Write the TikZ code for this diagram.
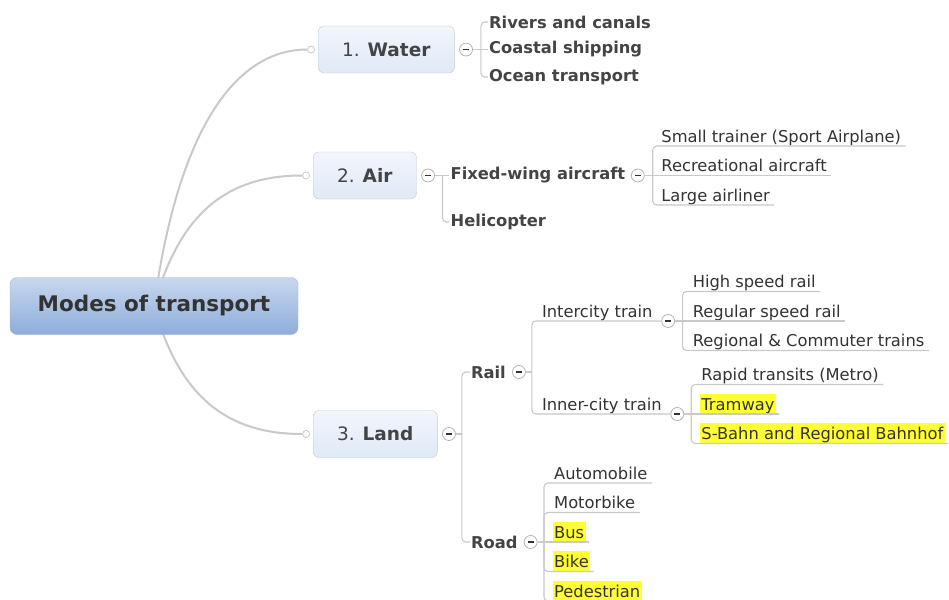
\documentclass[tikz,border=0pt]{standalone}
\usepackage{fontspec}
\setmainfont{DejaVu Sans}
\usetikzlibrary{positioning,backgrounds}
\definecolor{linegray}{HTML}{C9C9C9}
\definecolor{colline}{HTML}{B4B4B4}
\definecolor{roottop}{HTML}{C8D7EE}
\definecolor{rootbottom}{HTML}{8EADDB}
\definecolor{rootline}{HTML}{AAB8CE}
\definecolor{topictop}{HTML}{F2F6FC}
\definecolor{topicbottom}{HTML}{E0E9F7}
\definecolor{topicline}{HTML}{BFCBDD}
\definecolor{textdark}{HTML}{333333}
\definecolor{textmid}{HTML}{444444}
\definecolor{hlyellow}{HTML}{FFFF33}

\begin{document}
\begin{tikzpicture}[x=1pt,y=-1pt,
  trunkline/.style={draw=linegray,line width=2pt},
  branchline/.style={draw=linegray,line width=1.1pt,rounded corners=4pt},
  rootbox/.style={draw=rootline,rounded corners=7pt,top color=roottop,bottom color=rootbottom,
    minimum width=288pt,minimum height=57pt,font=\fontsize{21.5}{25}\selectfont\bfseries,text=textdark},
  topicbox/.style={draw=topicline,rounded corners=6pt,top color=topictop,bottom color=topicbottom,
    inner xsep=24pt,minimum height=47pt,font=\fontsize{18.5}{22}\selectfont,text=textmid},
  enddot/.style={circle,draw=linegray,fill=white,line width=0.8pt,minimum size=7pt,inner sep=0pt},
  collapse/.style={circle,draw=colline,fill=white,line width=0.8pt,minimum size=13pt,inner sep=0pt,
    path picture={\draw[line width=1.3pt,textdark] ([xshift=-3pt]path picture bounding box.center)
      -- ([xshift=3pt]path picture bounding box.center);}},
  major/.style={font=\fontsize{16.3}{19}\selectfont\bfseries,text=textmid,inner sep=1pt},
  leaf/.style={font=\fontsize{16.3}{19}\selectfont,text=textdark,inner xsep=1.5pt,inner ysep=0pt,
    text height=16.5pt,text depth=3.5pt},
  marked/.style={fill=hlyellow}]
  \useasboundingbox (0,0) rectangle (949,599);
  % Root
  \node (root) [rootbox] at (154,306) {Modes of transport};
  % Water
  \node (water) [topicbox,anchor=west] at (318,49.5) {1. \textbf{Water}};
  \node (waterdot) [enddot,left=3pt of water] {};
  \node (watercol) [collapse,right=4.5pt of water] {};
  \coordinate (waterfork) at ([xshift=8pt]watercol.east);
  \node (rivers) [major,anchor=west] at ([xshift=7pt,yshift=27.5pt]waterfork) {Rivers and canals};
  \node (coastal) [major,below=27.5pt of rivers.west,anchor=west] {Coastal shipping};
  \node (ocean) [major,below=27.5pt of coastal.west,anchor=west] {Ocean transport};
  % Air
  \node (air) [topicbox,anchor=west] at (313,175.5) {2. \textbf{Air}};
  \node (airdot) [enddot,left=3pt of air] {};
  \node (aircol) [collapse,right=4.5pt of air] {};
  \coordinate (airfork) at ([xshift=7.5pt]aircol.east);
  \node (fixed) [major,anchor=west] at ([xshift=7pt]airfork) {Fixed-wing aircraft};
  \node (heli) [major,below=46.5pt of fixed.west,anchor=west] {Helicopter};
  \node (fixedcol) [collapse,right=4.5pt of fixed] {};
  \coordinate (fixedfork) at ([xshift=8pt]fixedcol.east);
  \node (trainer) [leaf,anchor=south west] at ([xshift=7pt,yshift=29.5pt]fixedfork) {Small trainer (Sport Airplane)};
  \node (recreation) [leaf,below=29.5pt of trainer.south west,anchor=south west] {Recreational aircraft};
  \node (airliner) [leaf,below=29.5pt of recreation.south west,anchor=south west] {Large airliner};
  % Land
  \node (land) [topicbox,anchor=west] at (313,434) {3. \textbf{Land}};
  \node (landdot) [enddot,left=3pt of land] {};
  \node (landcol) [collapse,right=4.5pt of land] {};
  \coordinate (landfork) at ([xshift=6pt]landcol.east);
  \node (rail) [major,anchor=west] at ([xshift=8pt,yshift=62pt]landfork) {Rail};
  \node (road) [major,below=170pt of rail.west,anchor=west] {Road};
  \node (railcol) [collapse,right=5pt of rail] {};
  \node (roadcol) [collapse,right=5pt of road] {};
  \coordinate (railfork) at ([xshift=6pt]railcol.east);
  \coordinate (roadfork) at ([xshift=6.5pt]roadcol.east);
  % Rail
  \node (intercity) [leaf,anchor=south west] at ([xshift=8.5pt,yshift=51pt]railfork) {Intercity train};
  \node (innercity) [leaf,below=93pt of intercity.south west,anchor=south west] {Inner-city train};
  \node (intercol) [collapse,right=7pt of intercity.south east] {};
  \node (innercol) [collapse,right=7pt of innercity.south east] {};
  \coordinate (interfork) at ([xshift=7.5pt]intercol.east);
  \coordinate (innerfork) at ([xshift=7pt]innercol.east);
  \node (highspeed) [leaf,anchor=south west] at ([xshift=8.5pt,yshift=29.5pt]interfork) {High speed rail};
  \node (regular) [leaf,below=29.5pt of highspeed.south west,anchor=south west] {Regular speed rail};
  \node (regional) [leaf,below=29.5pt of regular.south west,anchor=south west] {Regional \& Commuter trains};
  \node (metro) [leaf,anchor=south west] at ([xshift=8.5pt,yshift=29.5pt]innerfork) {Rapid transits (Metro)};
  \node (tramway) [leaf,marked,below=29.5pt of metro.south west,anchor=south west] {Tramway};
  \node (sbahn) [leaf,marked,below=29.5pt of tramway.south west,anchor=south west] {S-Bahn and Regional Bahnhof};
  % Road
  \node (automobile) [leaf,anchor=south west] at ([xshift=8.5pt,yshift=59pt]roadfork) {Automobile};
  \node (motorbike) [leaf,below=29.5pt of automobile.south west,anchor=south west] {Motorbike};
  \node (bus) [leaf,marked,below=29.5pt of motorbike.south west,anchor=south west] {Bus};
  \node (bike) [leaf,marked,below=29.5pt of bus.south west,anchor=south west] {Bike};
  \node (pedestrian) [leaf,marked,below=29.5pt of bike.south west,anchor=south west] {Pedestrian};
  % curves from the root
  \begin{scope}[on background layer]
    \fill[white] (0,0) rectangle (949,599);
    \draw[trunkline] (root.center) .. controls (178,130) and (235,49.5) .. (waterdot.west);
    \draw[trunkline] (root.center) .. controls (180,210) and (230,175.5) .. (airdot.west);
    \draw[trunkline] (root.center) .. controls (180,400) and (230,434) .. (landdot.west);
  \end{scope}
  % branches
  \draw[branchline] (watercol) -- (waterfork);
  \draw[branchline] (waterfork) |- (rivers.west);
  \draw[branchline] (waterfork) -- (coastal.west);
  \draw[branchline] (waterfork) |- (ocean.west);
  \draw[branchline] (aircol) -- (airfork);
  \draw[branchline] (airfork) -- (fixed.west);
  \draw[branchline] (airfork) |- (heli.west);
  \draw[branchline] (fixedcol) -- (fixedfork);
  \draw[branchline] (fixedfork) |- ([xshift=3pt]trainer.south east);
  \draw[branchline] (fixedfork) -- ([xshift=3pt]recreation.south east);
  \draw[branchline] (fixedfork) |- ([xshift=3pt]airliner.south east);
  \draw[branchline] (landcol) -- (landfork);
  \draw[branchline] (landfork) |- (rail.west);
  \draw[branchline] (landfork) |- (road.west);
  \draw[branchline] (railcol) -- (railfork);
  \draw[branchline] (railfork) |- (intercol.west);
  \draw[branchline] (railfork) |- (innercol.west);
  \draw[branchline] (intercol) -- (interfork);
  \draw[branchline] (interfork) |- ([xshift=3pt]highspeed.south east);
  \draw[branchline] (interfork) -- ([xshift=3pt]regular.south east);
  \draw[branchline] (interfork) |- ([xshift=3pt]regional.south east);
  \draw[branchline] (innercol) -- (innerfork);
  \draw[branchline] (innerfork) |- ([xshift=3pt]metro.south east);
  \draw[branchline] (innerfork) -- ([xshift=3pt]tramway.south east);
  \draw[branchline] (innerfork) |- ([xshift=3pt]sbahn.south east);
  \draw[branchline] (roadcol) -- (roadfork);
  \draw[branchline] (roadfork) |- ([xshift=3pt]automobile.south east);
  \draw[branchline] (roadfork) |- ([xshift=3pt]motorbike.south east);
  \draw[branchline] (roadfork) -- ([xshift=3pt]bus.south east);
  \draw[branchline] (roadfork) |- ([xshift=3pt]bike.south east);
  \draw[branchline] (roadfork) |- ([xshift=3pt]pedestrian.south east);
\end{tikzpicture}
\end{document}
